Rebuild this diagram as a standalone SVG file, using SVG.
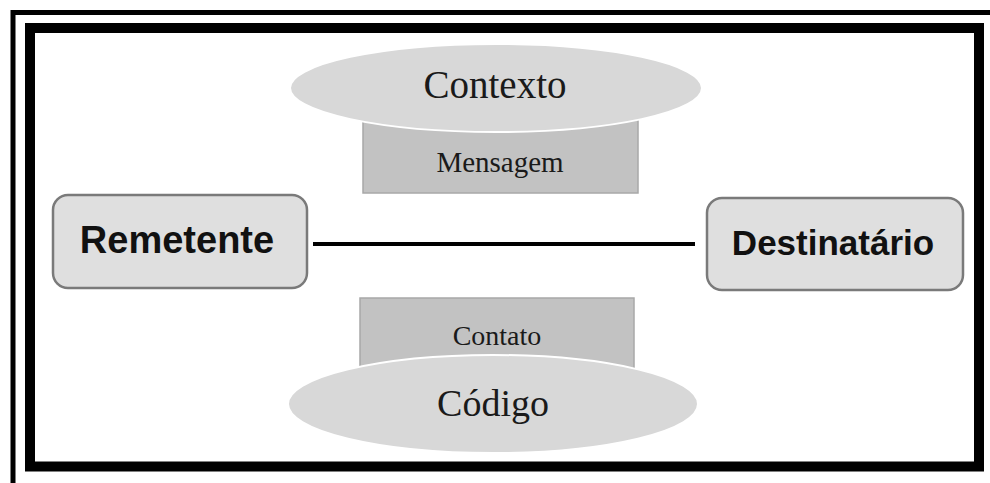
<svg xmlns="http://www.w3.org/2000/svg" width="990" height="483" viewBox="0 0 990 483">
<style>
.ell{fill:#d8d8d8;stroke:#ffffff;stroke-width:2}
.bar{fill:#c2c2c2;stroke:#a8a8a8;stroke-width:1.5}
.box{fill:#dfdfdf;stroke:#7a7a7a;stroke-width:2.5}
.serif{font-family:"Liberation Serif","Times New Roman",serif;fill:#1a1a1a;text-anchor:middle}
.sans{font-family:"Liberation Sans",Arial,sans-serif;font-weight:bold;fill:#111;text-anchor:middle}
</style>
<rect width="990" height="483" fill="#ffffff"/>
<g id="frame" fill="none" stroke="#000">
<path d="M13,483 V12.5 H990" stroke-width="5"/>
<rect x="30" y="28" width="949" height="438.5" stroke-width="10"/>
</g>
<g id="connectors">
<line x1="313" y1="244" x2="695" y2="244" stroke="#000" stroke-width="4"/>
</g>
<g id="mensagem">
<rect class="bar" x="363" y="118" width="275" height="75"/>
<text class="serif" x="500" y="172" font-size="29">Mensagem</text>
</g>
<g id="contexto">
<ellipse class="ell" cx="496" cy="88" rx="206" ry="44"/>
<text class="serif" x="495" y="98" font-size="39">Contexto</text>
</g>
<g id="remetente">
<rect class="box" x="53" y="195" width="254" height="93" rx="15"/>
<text class="sans" x="177" y="253" font-size="38">Remetente</text>
</g>
<g id="destinatario">
<rect class="box" x="707" y="198" width="256" height="92" rx="15"/>
<text class="sans" x="833" y="255" font-size="35">Destinatário</text>
</g>
<g id="contato">
<rect class="bar" x="360" y="298" width="274" height="72"/>
<text class="serif" x="497" y="345" font-size="28">Contato</text>
</g>
<g id="codigo">
<ellipse class="ell" cx="493" cy="404" rx="205" ry="49"/>
<text class="serif" x="493" y="416" font-size="38">Código</text>
</g>
</svg>
